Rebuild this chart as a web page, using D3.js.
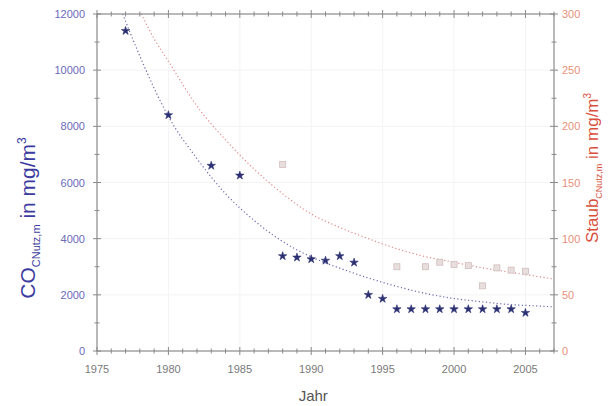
<!DOCTYPE html>
<html><head><meta charset="utf-8">
<script src="https://cdn.jsdelivr.net/npm/d3@7"></script>
<style>body{margin:0;background:#fff}svg{display:block}</style>
</head><body><svg id="c" width="615" height="406"></svg>
<script>
// CO measurements (left axis)
const coYears = [1977,1980,1983,1985,1988,1989,1990,1991,1992,1993,1994,1995,1996,1997,1998,1999,2000,2001,2002,2003,2004,2005];
const coValues = [11400,8400,6600,6250,3380,3330,3270,3220,3380,3150,2000,1860,1490,1490,1490,1490,1490,1490,1490,1490,1490,1360];
// Staub measurements (right axis)
const staubYears = [1988,1996,1998,1999,2000,2001,2002,2003,2004,2005];
const staubValues = [166,75,75,79,77,76,58,74,72,71];
// fitted curves
const coFitYears = [1976.8,1978,1980,1982,1984,1986,1988,1990,1992,1994,1996,1998,2000,2002,2004,2006,2007];
const coFitValues = [12000,10500,8350,6850,5600,4650,3900,3350,2950,2600,2300,2050,1870,1750,1650,1600,1570];
const stFitYears = [1978.1,1979,1980,1982,1984,1986,1988,1990,1992,1994,1996,1998,2000,2002,2004,2006,2007];
const stFitValues = [300,278,258,218,188,162,140,122,110,100,91,84,79,74,70,66,64];
const xTicks = [1975,1980,1985,1990,1995,2000,2005];
const yLeftTicks = [0,2000,4000,6000,8000,10000,12000];
const yRightTicks = [0,50,100,150,200,250,300];

const svg = d3.select("#c");
const L=97,R=554,T=14,B=351;
const x = d3.scaleLinear().domain([1975,2007]).range([L,R]);
const yL = d3.scaleLinear().domain([0,12000]).range([B,T]);
const yR = d3.scaleLinear().domain([0,300]).range([B,T]);
const axisCol="#8a8a8a";

const grid = svg.append("g").attr("stroke","#f3f3f3").attr("stroke-width",1);
xTicks.slice(1).forEach(t=>grid.append("line").attr("x1",x(t)).attr("x2",x(t)).attr("y1",T).attr("y2",B));
yLeftTicks.slice(1,-1).forEach(t=>grid.append("line").attr("x1",L).attr("x2",R).attr("y1",yL(t)).attr("y2",yL(t)));

svg.append("clipPath").attr("id","clip").append("rect").attr("x",L).attr("y",T).attr("width",R-L).attr("height",B-T);

const line = (sx,sy)=>d3.line().x(d=>x(d[0])).y(d=>sy(d[1])).curve(d3.curveMonotoneX);
svg.append("path").datum(d3.zip(coFitYears,coFitValues)).attr("clip-path","url(#clip)")
  .attr("d",line(x,yL)).attr("fill","none").attr("stroke","#6a6ab0").attr("stroke-width",1.2).attr("stroke-dasharray","1.2,2.4");
svg.append("path").datum(d3.zip(stFitYears,stFitValues)).attr("clip-path","url(#clip)")
  .attr("d",line(x,yR)).attr("fill","none").attr("stroke","#e38a8a").attr("stroke-width",1.2).attr("stroke-dasharray","1.2,2.4");

svg.append("g").selectAll("rect").data(d3.zip(staubYears,staubValues)).join("rect")
  .attr("x",d=>x(d[0])-3).attr("y",d=>yR(d[1])-3).attr("width",6).attr("height",6)
  .attr("fill","#e8dede").attr("stroke","#d2bcbc").attr("stroke-width",0.8);

const star = d3.symbol().type(d3.symbolStar).size(22);
svg.append("g").selectAll("path").data(d3.zip(coYears,coValues)).join("path")
  .attr("transform",d=>`translate(${x(d[0])},${yL(d[1])})`).attr("d",star)
  .attr("fill","#2c3072").attr("stroke","#2c3072").attr("stroke-width",0.6);

svg.append("rect").attr("x",L).attr("y",T).attr("width",R-L).attr("height",B-T)
  .attr("fill","none").attr("stroke",axisCol).attr("stroke-width",1.2);

function ticksH(y, vals, len){ vals.forEach(v=>svg.append("line").attr("x1",x(v)).attr("x2",x(v)).attr("y1",y-len).attr("y2",y+len).attr("stroke",axisCol)); }
function ticksV(xp, sc, vals, len){ vals.forEach(v=>svg.append("line").attr("x1",xp-len).attr("x2",xp+len).attr("y1",sc(v)).attr("y2",sc(v)).attr("stroke",axisCol)); }
const minorX = d3.range(1975,2008).filter(v=>v%5);
ticksH(B,xTicks,4); ticksH(B,minorX,2.5); ticksH(T,xTicks,4); ticksH(T,minorX,2.5);
const minorL = d3.range(1000,12000,2000);
ticksV(L,yL,yLeftTicks,4); ticksV(L,yL,minorL,2.5);
const minorR = d3.range(25,300,50);
ticksV(R,yR,yRightTicks,4); ticksV(R,yR,minorR,2.5);

const fnt="Arial, Liberation Sans, sans-serif";
svg.append("g").selectAll("text").data(xTicks).join("text")
  .attr("x",d=>x(d)).attr("y",373).attr("text-anchor","middle").attr("font-family",fnt).attr("font-size",11)
  .attr("fill","#7a7a7a").text(d=>d);
svg.append("g").selectAll("text").data(yLeftTicks).join("text")
  .attr("x",85).attr("y",d=>yL(d)+4).attr("text-anchor","end").attr("font-family",fnt).attr("font-size",11)
  .attr("fill","#6a6abc").text(d=>d);
svg.append("g").selectAll("text").data(yRightTicks).join("text")
  .attr("x",562).attr("y",d=>yR(d)+4).attr("text-anchor","start").attr("font-family",fnt).attr("font-size",11)
  .attr("fill","#e8907a").text(d=>d);

svg.append("text").attr("x",x(1990)+2).attr("y",401).attr("text-anchor","middle").attr("font-family",fnt)
  .attr("font-size",15).attr("fill","#555").text("Jahr");
const lt = svg.append("text").attr("transform","translate(35,218) rotate(-90)").attr("text-anchor","middle")
  .attr("font-family",fnt).attr("font-size",21).attr("fill","#3c3ca0");
lt.append("tspan").text("CO");
lt.append("tspan").attr("font-size",11).attr("dy",5).text("CNutz,m");
lt.append("tspan").attr("dy",-5).text(" in mg/m");
lt.append("tspan").attr("font-size",12).attr("dy",-9).text("3");
const rt = svg.append("text").attr("transform","translate(598,168) rotate(-90)").attr("text-anchor","middle")
  .attr("font-family",fnt).attr("font-size",17).attr("fill","#d8503c");
rt.append("tspan").text("Staub");
rt.append("tspan").attr("font-size",9).attr("dy",4).text("CNutz,m");
rt.append("tspan").attr("dy",-4).text(" in mg/m");
rt.append("tspan").attr("font-size",10).attr("dy",-7).text("3");
</script></body></html>
